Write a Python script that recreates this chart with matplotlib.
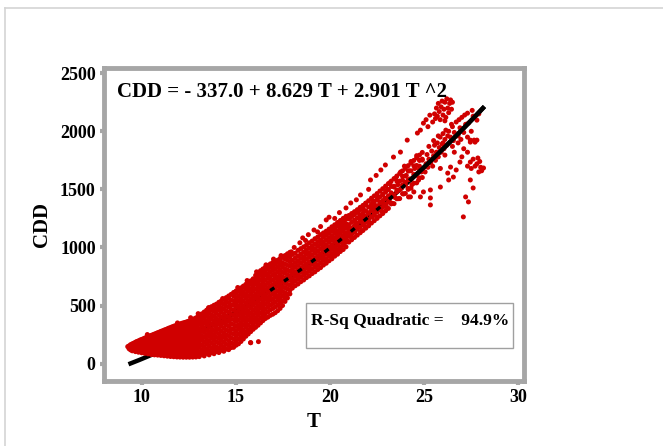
import numpy as np
import matplotlib
matplotlib.use("Agg")
import matplotlib.pyplot as plt
from matplotlib.lines import Line2D

# dense parts of the cloud are given as columns: (T, [CDD values at that T])
dense_cols_low = [
    (9.26, [146]),
    (9.33, [128, 152]),
    (9.41, [118, 141, 163]),
    (9.5, [110, 137, 170]),
    (9.58, [124, 150, 176]),
    (9.67, [103, 133, 160, 184]),
    (9.74, [118, 147, 190]),
    (9.83, [98, 128, 156, 196]),
    (9.92, [112, 141, 172, 203]),
    (10.0, [93, 126, 160, 190, 208]),
    (10.09, [106, 140, 176, 214]),
    (10.17, [88, 120, 152, 186, 220]),
    (10.26, [101, 134, 170, 204, 226]),
    (10.34, [84, 116, 148, 182, 214, 231]),
    (10.43, [97, 130, 166, 198, 238]),
    (10.51, [78, 111, 144, 178, 212, 243]),
    (10.6, [92, 127, 160, 194, 228, 249]),
    (10.68, [75, 107, 140, 174, 208, 240, 254]),
    (10.77, [88, 122, 156, 190, 224, 260]),
    (10.85, [73, 104, 136, 170, 204, 238, 266]),
    (10.94, [86, 118, 152, 186, 220, 252, 271]),
    (11.02, [70, 101, 133, 167, 200, 234, 262, 277]),
    (11.1, [83, 115, 149, 182, 216, 250, 282]),
    (11.19, [67, 98, 130, 163, 197, 231, 264, 288]),
    (11.27, [80, 112, 146, 179, 213, 247, 278, 293]),
    (11.36, [64, 95, 127, 160, 194, 228, 262, 299]),
    (11.44, [77, 109, 142, 176, 210, 244, 276, 305]),
    (11.53, [61, 92, 124, 157, 191, 225, 259, 290, 310]),
    (11.61, [74, 106, 139, 173, 207, 241, 275, 316]),
    (11.7, [59, 89, 121, 154, 188, 222, 256, 290, 321]),
    (11.78, [72, 103, 136, 170, 204, 238, 272, 305, 326]),
    (11.87, [57, 87, 118, 151, 185, 219, 253, 287, 331]),
    (11.95, [70, 100, 133, 167, 201, 235, 269, 303, 336]),
    (12.03, [56, 85, 116, 149, 182, 216, 250, 284, 318, 341]),
    (12.12, [68, 98, 131, 164, 198, 232, 266, 300, 346]),
    (12.2, [55, 83, 114, 147, 180, 214, 248, 282, 316, 350]),
    (12.29, [67, 97, 129, 162, 196, 230, 264, 298, 332, 354]),
    (12.37, [55, 82, 112, 145, 178, 212, 246, 280, 314, 358]),
    (12.46, [66, 96, 128, 161, 195, 229, 263, 297, 331, 363]),
    (12.54, [55, 81, 111, 144, 177, 211, 245, 279, 313, 347, 368]),
    (12.63, [66, 95, 127, 160, 194, 228, 262, 296, 330, 373]),
    (12.71, [56, 81, 111, 144, 177, 211, 245, 279, 313, 347, 379]),
    (12.8, [67, 96, 128, 161, 195, 229, 263, 297, 331, 365, 386]),
    (12.88, [57, 83, 113, 146, 179, 213, 247, 281, 315, 349, 393]),
    (12.97, [69, 98, 130, 163, 197, 231, 265, 299, 333, 367, 400]),
]

dense_cols_mid = [
    (13.06, [60, 98, 141, 180, 222, 259, 301, 342, 380, 412]),
    (13.19, [79, 120, 160, 203, 240, 282, 321, 362, 401, 428]),
    (13.32, [66, 104, 146, 185, 227, 268, 306, 347, 388, 423, 444]),
    (13.45, [88, 128, 170, 208, 250, 290, 333, 370, 412, 448, 460]),
    (13.58, [75, 112, 153, 194, 235, 274, 315, 357, 396, 437, 475, 481]),
    (13.71, [95, 135, 176, 217, 259, 298, 338, 381, 420, 460, 490]),
    (13.84, [85, 122, 163, 206, 244, 285, 328, 366, 407, 449, 485, 502]),
    (13.97, [104, 144, 186, 226, 268, 310, 349, 389, 432, 470, 512]),
    (14.1, [95, 132, 174, 216, 256, 296, 339, 378, 418, 461, 499, 528]),
    (14.23, [115, 156, 199, 238, 279, 322, 360, 401, 443, 482, 522, 540]),
    (14.36, [106, 142, 183, 226, 265, 306, 349, 388, 428, 471, 510, 553]),
    (14.49, [125, 166, 209, 248, 289, 332, 371, 412, 454, 493, 534, 568]),
    (14.62, [120, 156, 197, 240, 279, 320, 363, 402, 443, 486, 525, 565, 582]),
    (14.75, [138, 178, 221, 260, 301, 344, 383, 424, 467, 506, 547, 596]),
    (14.88, [140, 172, 213, 256, 295, 336, 379, 418, 459, 502, 541, 582, 612]),
    (15.01, [158, 197, 240, 279, 320, 363, 402, 443, 486, 525, 566, 606, 625]),
    (15.14, [170, 212, 253, 296, 335, 376, 419, 458, 499, 542, 581, 622, 638]),
    (15.27, [190, 230, 273, 312, 353, 396, 435, 476, 519, 558, 599, 640, 652]),
    (15.4, [212, 250, 291, 334, 373, 414, 457, 496, 537, 580, 619, 660, 667]),
    (15.53, [235, 272, 315, 354, 395, 438, 477, 518, 561, 600, 641, 682]),
    (15.66, [255, 292, 333, 376, 415, 456, 499, 538, 579, 622, 661, 698]),
    (15.79, [180, 275, 314, 357, 396, 437, 480, 519, 560, 603, 642, 683, 712]),
    (15.92, [295, 336, 379, 418, 459, 502, 541, 582, 625, 664, 705, 730]),
    (16.05, [312, 355, 396, 439, 478, 519, 562, 601, 642, 685, 724, 760]),
    (16.18, [330, 372, 415, 454, 495, 538, 577, 618, 661, 700, 741, 775]),
    (16.31, [350, 392, 433, 476, 515, 556, 599, 638, 679, 722, 761, 800]),
    (16.44, [370, 410, 453, 492, 533, 576, 615, 656, 699, 738, 779, 815]),
    (16.57, [388, 430, 471, 514, 553, 594, 637, 676, 717, 760, 799, 830]),
    (16.7, [400, 446, 489, 528, 569, 612, 651, 692, 735, 774, 815, 845]),
    (16.83, [415, 462, 503, 546, 585, 626, 669, 708, 749, 792, 831, 858]),
    (16.96, [425, 474, 517, 556, 597, 640, 679, 720, 763, 802, 843, 870]),
    (17.09, [438, 488, 529, 572, 611, 652, 695, 734, 775, 818, 857, 880]),
    (17.22, [455, 502, 545, 584, 625, 668, 707, 748, 791, 830, 871, 890]),
    (17.35, [475, 520, 561, 604, 643, 684, 727, 766, 807, 850, 889, 905]),
    (17.48, [500, 540, 583, 622, 663, 706, 745, 786, 829, 868, 915]),
    (17.61, [535, 570, 611, 654, 693, 734, 777, 816, 857, 900, 930]),
    (17.74, [565, 600, 643, 682, 723, 766, 805, 846, 889, 928, 945]),
    (17.87, [600, 632, 673, 716, 755, 796, 839, 878, 919, 958]),
]

dense_cols_high = [
    (18.0, [650, 690, 730, 770, 810, 850, 890, 940]),
    (18.15, [670, 710, 750, 790, 830, 870, 910, 950]),
    (18.3, [685, 725, 765, 805, 845, 885, 925, 975]),
    (18.45, [705, 745, 785, 825, 865, 905, 945, 990]),
    (18.6, [720, 760, 800, 840, 880, 920, 960, 1005]),
    (18.75, [740, 780, 820, 860, 900, 940, 980, 1020]),
    (18.9, [755, 795, 835, 875, 915, 955, 995, 1040]),
    (19.05, [775, 815, 855, 895, 935, 975, 1015, 1055]),
    (19.2, [790, 830, 870, 910, 950, 990, 1030, 1075]),
    (19.35, [810, 850, 890, 930, 970, 1010, 1050, 1090]),
    (19.5, [826, 866, 906, 946, 986, 1026, 1066, 1110]),
    (19.65, [848, 888, 928, 968, 1008, 1048, 1088, 1125]),
    (19.8, [864, 904, 944, 984, 1024, 1064, 1104, 1140]),
    (19.95, [885, 925, 965, 1005, 1045, 1085, 1125, 1158]),
    (20.1, [902, 942, 982, 1022, 1062, 1102, 1142, 1178]),
    (20.25, [925, 965, 1005, 1045, 1085, 1125, 1165, 1195]),
    (20.4, [942, 982, 1022, 1062, 1102, 1142, 1182, 1215]),
    (20.55, [965, 1005, 1045, 1085, 1125, 1165, 1205, 1232]),
    (20.7, [982, 1022, 1062, 1102, 1142, 1182, 1222, 1250]),
    (20.85, [1005, 1045, 1085, 1125, 1165, 1205, 1245, 1268]),
    (21.0, [1046, 1096, 1146, 1196, 1246, 1275]),
    (21.15, [1066, 1116, 1166, 1216, 1266, 1292]),
    (21.3, [1086, 1136, 1186, 1236, 1286, 1308]),
    (21.45, [1106, 1156, 1206, 1256, 1306, 1325]),
    (21.6, [1126, 1176, 1226, 1276, 1326, 1345]),
    (21.75, [1146, 1196, 1246, 1296, 1346, 1362]),
    (21.9, [1166, 1216, 1266, 1316, 1366, 1382]),
    (22.05, [1186, 1240, 1294, 1348, 1402]),
    (22.2, [1210, 1264, 1318, 1372, 1424]),
    (22.35, [1230, 1284, 1338, 1392, 1444]),
    (22.5, [1250, 1304, 1358, 1412, 1464]),
    (22.65, [1272, 1326, 1380, 1434, 1486]),
    (22.8, [1292, 1346, 1400, 1454, 1506]),
    (22.95, [1315, 1369, 1423, 1477, 1528]),
    (23.1, [1336, 1390, 1444, 1498, 1550]),
    (23.25, [1375, 1450, 1525, 1571]),
    (23.4, [1377, 1452, 1527, 1593]),
    (23.55, [1419, 1494, 1569, 1615]),
    (23.7, [1421, 1496, 1571, 1637]),
    (23.85, [1463, 1538, 1613, 1659]),
    (24.0, [1465, 1540, 1615, 1681]),
    (24.15, [1508, 1583, 1658, 1704]),
    (24.3, [1510, 1585, 1660, 1726]),
    (24.45, [1553, 1628, 1703, 1749]),
    (24.6, [1556, 1631, 1706, 1772]),
    (24.75, [1599, 1674, 1749, 1795]),
    (24.9, [1602, 1677, 1752, 1818]),
]

# single points: ragged edges, the sparse upper band, and the high-T part
edge_pts = [
    (15.78, 180), (16.2, 189), (14.3, 560), (15.1, 655), (15.6, 715), (16.1, 790),
    (16.6, 850), (17.0, 900), (17.4, 930), (12.6, 395), (13.0, 430), (11.9, 350),
    (10.3, 250), (13.55, 481), (13.85, 490), (17.95, 962), (18.1, 1000), (18.4, 1040),
    (18.55, 1082), (18.7, 1060), (18.85, 1110), (19.15, 1150), (19.34, 1134), (19.5, 1180),
    (19.8, 1237), (19.95, 1260),
]

high_pts = [
    (20.05, 920), (20.1, 1000), (20.15, 1080), (20.2, 1160), (20.25, 1250), (20.3, 960),
    (20.35, 1040), (20.4, 1120), (20.45, 1200), (20.5, 1300), (20.55, 990), (20.6, 1080),
    (20.65, 1150), (20.7, 1030), (20.75, 1220), (20.8, 1110), (20.85, 1340), (20.9, 1060),
    (20.95, 1180), (21.0, 1120), (21.05, 1250), (21.1, 1383), (21.15, 1080), (21.2, 1170),
    (21.25, 1280), (21.3, 1130), (21.35, 1220), (21.4, 1410), (21.45, 1170), (21.5, 1300),
    (21.55, 1250), (21.62, 1452), (21.65, 1140), (21.7, 1220), (21.75, 1330), (21.8, 1270),
    (21.85, 1180), (21.9, 1380), (21.95, 1240), (22.0, 1300), (22.05, 1500), (22.1, 1210),
    (22.15, 1581), (22.2, 1340), (22.25, 1260), (22.3, 1400), (22.35, 1300), (22.4, 1360),
    (22.45, 1620), (22.5, 1260), (22.55, 1430), (22.6, 1340), (22.65, 1390), (22.7, 1667),
    (22.75, 1310), (22.8, 1460), (22.85, 1380), (22.9, 1420), (22.94, 1710), (23.0, 1350),
    (23.05, 1500), (23.1, 1440), (23.15, 1400), (23.2, 1560), (23.25, 1470), (23.3, 1380),
    (23.37, 1778), (23.4, 1520), (23.45, 1430), (23.5, 1600), (23.55, 1480), (23.6, 1540),
    (23.65, 1420), (23.74, 1821), (23.75, 1650), (23.8, 1510), (23.85, 1580), (23.9, 1460),
    (23.95, 1700), (24.0, 1560), (24.05, 1620), (24.1, 1924), (24.15, 1500), (24.2, 1660),
    (24.25, 1590), (24.3, 1740), (24.35, 1540), (24.5, 1680), (24.55, 1620), (24.6, 1790),
    (24.64, 1985), (24.7, 1580), (24.75, 1700), (24.8, 2010), (24.85, 1650), (24.9, 1760),
    (24.96, 2070), (25.05, 1650), (25.1, 1720), (25.15, 1800), (25.2, 1690), (25.25, 1760),
    (25.3, 2139), (25.35, 1730), (25.4, 1830), (25.45, 1700), (25.5, 1790), (25.55, 1880),
    (25.6, 1750), (25.65, 1820), (25.7, 1900), (25.75, 1780), (25.8, 1860), (25.85, 1950),
    (25.9, 1820), (25.95, 1890), (26.0, 1980), (26.05, 1850), (26.1, 1930), (26.2, 1880),
    (26.3, 2000), (26.4, 1950), (26.5, 2040), (26.6, 1990), (26.7, 2080), (26.8, 1960),
    (26.9, 2030), (27.0, 2120), (27.1, 1990), (27.2, 2060), (27.3, 2156), (27.5, 2000),
    (27.8, 2096), (27.6, 2130), (27.35, 2070), (27.45, 1924), (27.65, 1924), (27.8, 1924),
    (25.25, 1870), (25.5, 1920), (25.75, 1960), (26.0, 1900), (26.25, 1960), (26.55, 1920),
    (26.15, 2010), (26.45, 2060), (26.85, 2100), (27.15, 2140), (27.55, 2180), (27.9, 2150),
]

top_cluster_pts = [
    (25.45, 2080), (25.55, 2150), (25.6, 2110), (25.65, 2200), (25.7, 2130), (25.75, 2240),
    (25.8, 2170), (25.85, 2100), (25.9, 2210), (25.95, 2260), (26.0, 2140), (26.05, 2190),
    (26.1, 2250), (26.15, 2120), (26.2, 2280), (26.25, 2200), (26.3, 2160), (26.35, 2240),
    (26.4, 2270), (26.45, 2190), (26.5, 2250), (26.1, 2090), (25.1, 2100), (25.2, 2040),
]

scatter_pts = [
    (27.45, 1907), (27.7, 1907), (28.15, 1684), (27.9, 1650), (27.45, 1735), (27.6, 1760),
    (26.9, 1735), (26.4, 1692), (26.55, 1606), (27.45, 1581), (27.6, 1512), (27.2, 1435),
    (27.35, 1392), (27.08, 1263), (26.3, 1581), (25.86, 1520), (25.33, 1495), (25.33, 1426),
    (25.33, 1366), (24.96, 1478), (24.8, 1435), (24.27, 1435), (24.45, 1478), (26.25, 1640),
    (26.7, 1667), (25.86, 1680), (27.3, 1700), (27.0, 1780), (27.3, 1820), (26.6, 1820),
    (26.1, 1795), (27.7, 1700), (27.8, 1720), (28.0, 1690), (27.95, 1740), (27.5, 1680),
    (27.85, 1770), (28.05, 1660), (24.17, 1435), (26.5, 1870), (26.8, 1900), (27.1, 1850),
    (27.3, 1950), (26.95, 1930),
]

# quadratic fit coefficients shown on the chart
b0, b1, b2 = -337.0, 8.629, 2.901
t_min, t_max = 9.3, 28.2

t_obs = []
cdd_obs = []
for t, vals in dense_cols_low + dense_cols_mid + dense_cols_high:
    for v in vals:
        t_obs.append(t)
        cdd_obs.append(v)
for t, v in edge_pts + high_pts + top_cluster_pts + scatter_pts:
    t_obs.append(t)
    cdd_obs.append(v)

t_fit = np.linspace(t_min, t_max, 300)
cdd_fit = b0 + b1 * t_fit + b2 * t_fit ** 2

plt.rcParams['font.family'] = ['Liberation Serif', 'DejaVu Serif']
plt.rcParams['font.weight'] = 'bold'

fig = plt.figure(figsize=(6.63, 4.46), dpi=100)
ax = fig.add_axes([104 / 663, 1 - 381 / 446, 420 / 663, 313 / 446])

ax.plot(t_fit, cdd_fit, color='black', lw=3.2, zorder=2, solid_capstyle='butt')
ax.scatter(t_obs, cdd_obs, s=13, color='#d00000', edgecolors='none', zorder=3)

# the fit line peeks through the cloud in broken bits, then runs on top at the high end
mid = (t_fit > 16.8) & (t_fit < 24.2)
ax.plot(t_fit[mid], cdd_fit[mid], color='black', lw=2.4, zorder=4, dashes=(1.5, 3.5))
top = t_fit >= 24.2
ax.plot(t_fit[top], cdd_fit[top], color='black', lw=3.2, zorder=4, solid_capstyle='butt')

ax.set_xlim(8.0, 30.3)
ax.set_ylim(-150, 2545)
ax.set_xticks([10, 15, 20, 25, 30])
ax.set_yticks([0, 500, 1000, 1500, 2000, 2500])

gray = '#a6a6a6'
for side in ax.spines.values():
    side.set_color(gray)
    side.set_linewidth(3.5)
ax.tick_params(direction='out', length=3, width=3, color=gray, labelsize=13, pad=3)
for lab in ax.get_xticklabels() + ax.get_yticklabels():
    lab.set_fontweight('bold')

ax.set_xlabel('T', fontsize=15, fontweight='bold', labelpad=4)
ax.set_ylabel('CDD', fontsize=15, fontweight='bold', labelpad=6)

ax.text(0.03, 0.955, 'CDD = - 337.0 + 8.629 T + 2.901 T ^2', transform=ax.transAxes,
        fontsize=15, fontweight='bold', va='top', ha='left')

# R-Sq box
box_x0, box_y0 = (306 - 104) / 420, (381 - 348) / 313
box_w, box_h = (513 - 306) / 420, (348 - 303) / 313
ax.add_patch(plt.Rectangle((box_x0, box_y0), box_w, box_h, transform=ax.transAxes,
                           fill=False, edgecolor='#a0a0a0', lw=1, zorder=4))
ax.text(box_x0 + 0.012, box_y0 + box_h * 0.6, 'R-Sq Quadratic =    94.9%', transform=ax.transAxes,
        fontsize=12.5, fontweight='bold', va='center', ha='left', zorder=5)

# faint outer frame of the page
fig.add_artist(Line2D([5 / 663, 1], [1 - 8 / 446, 1 - 8 / 446], color='#d4d4d4', lw=1.2))
fig.add_artist(Line2D([5 / 663, 5 / 663], [0, 1 - 8 / 446], color='#d4d4d4', lw=1.2))

fig.savefig('out.png', dpi=100)
